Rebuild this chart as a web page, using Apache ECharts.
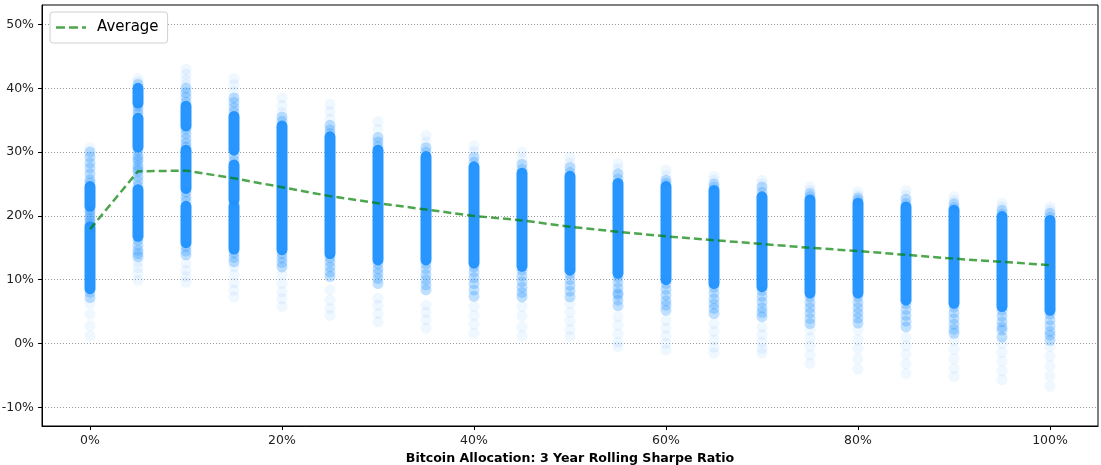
<!DOCTYPE html>
<html>
<head>
<meta charset="utf-8">
<script src="https://cdn.jsdelivr.net/npm/echarts@6/dist/echarts.min.js"></script>
<style>
html,body{margin:0;padding:0;background:#fff;}
#chart{width:1101px;height:465px;}
</style>
</head>
<body>
<div id="chart"></div>
<script>
// Bitcoin allocation (%)
const allocations = [0,5,10,15,20,25,30,35,40,45,50,55,60,65,70,75,80,85,90,95,100];
// Average 3-year rolling Sharpe ratio (%)
const averageSharpe = [17.9,27.0,27.1,25.9,24.5,23.1,22.0,21.0,20.0,19.3,18.3,17.5,16.8,16.2,15.6,15.0,14.5,13.9,13.3,12.8,12.3];
// Dense clusters of observations: [low, high] per allocation
const denseRanges = [
  [[21.5,24.6],[8.6,18.3]],
  [[37.7,40.0],[30.8,35.3],[16.8,24.1]],
  [[34.1,37.2],[24.3,30.3],[15.8,21.5]],
  [[30.3,35.6],[22.5,28.0],[14.8,21.5]],
  [[14.7,34.1]],
  [[14.1,32.4]],
  [[13.1,30.3]],
  [[13.1,29.3]],
  [[12.6,27.7]],
  [[12.1,26.7]],
  [[11.5,26.2]],
  [[11.0,25.1]],
  [[10.0,24.6]],
  [[9.4,24.0]],
  [[8.9,23.0]],
  [[7.9,22.5]],
  [[7.9,22.0]],
  [[6.8,21.4]],
  [[6.3,20.9]],
  [[5.8,19.9]],
  [[5.2,19.3]]
];
// Less frequent observations
const midValues = [
  [30.0,29.2,28.3,27.5,26.6,25.7,25.2,21.0,20.6,20.1,19.6,19.2,18.8,8.0,7.2],
  [40.6,37.2,36.6,36.0,30.2,29.5,29.0,28.6,27.9,27.4,27.0,26.2,25.5,24.7,16.2,15.4,14.6,14.1,13.6],
  [40.0,39.3,38.6,37.8,33.6,32.9,32.1,31.4,30.8,23.7,23.0,22.3,15.2,14.5,13.9],
  [38.5,37.8,37.0,36.3,29.5,28.7,22.0,14.2,13.5,12.8],
  [35.5,34.8,14.1,13.4,12.7,12.0],
  [34.2,33.5,32.9,13.5,12.8,12.0,11.2,10.5],
  [32.3,31.6,30.9,12.5,11.7,11.0,10.2,9.4],
  [30.7,30.0,12.5,11.7,10.8,10.0,9.2,8.4],
  [29.2,28.4,12.0,11.2,10.3,9.4,8.4,7.4],
  [28.1,27.3,11.5,10.6,9.7,8.8,8.0,7.3],
  [27.6,26.8,10.9,10.0,9.1,8.2,7.3],
  [26.6,25.8,10.4,9.6,8.7,7.9,7.6,6.8,5.9],
  [25.6,25.1,9.4,8.5,7.6,6.7,6.0,5.2],
  [25.0,24.5,8.8,7.9,7.0,6.2,5.5,4.7],
  [24.5,23.7,8.3,7.4,6.5,5.6,4.9,4.2],
  [23.5,23.0,7.3,6.4,5.6,4.8,3.9,3.1],
  [22.8,22.4,7.3,6.4,5.6,4.8,4.0,3.2],
  [22.6,21.9,6.2,5.3,4.4,3.5,2.6],
  [21.9,21.3,5.7,4.8,3.9,3.0,2.2,1.6],
  [20.9,20.3,5.2,4.3,3.4,2.6,2.1,1.0],
  [20.4,19.8,4.6,3.7,2.8,1.9,1.3,0.5]
];
// Rare observations
const faintValues = [
  [30.7,6.3,4.6,2.8,1.2],
  [41.5,41.0,12.8,11.9,11.0,9.9],
  [43.0,42.2,41.4,40.6,12.6,11.5,10.5,9.6],
  [41.5,40.6,39.5,12.0,10.8,9.5,8.4,7.3],
  [38.5,37.3,36.2,10.8,9.4,8.1,7.0,5.8],
  [37.5,36.4,35.2,8.4,6.8,5.5,4.4],
  [34.8,33.6,7.1,6.0,4.7,3.4],
  [32.6,31.6,6.0,4.9,3.7,2.4],
  [31.0,30.1,5.8,4.4,3.0,1.6],
  [30.0,29.0,5.8,4.3,2.6,1.2],
  [29.2,28.3,6.3,4.9,3.5,2.2,1.1],
  [28.2,27.4,4.2,2.9,1.5,0.2,-0.5],
  [27.2,26.3,3.6,2.4,1.2,0.0,-1.0],
  [26.2,25.6,3.1,1.9,0.6,-0.6,-1.5],
  [25.6,25.0,2.6,1.4,0.2,-0.8,-1.5],
  [24.6,24.0,2.1,0.9,-0.4,-1.8,-3.1],
  [23.8,23.2,2.1,0.6,-0.8,-2.4,-4.0],
  [24.0,23.2,1.0,-0.3,-1.7,-3.2,-4.7],
  [23.0,22.4,0.5,-0.9,-2.4,-3.9,-5.2],
  [22.0,21.4,0.0,-1.4,-2.8,-4.3,-5.7],
  [21.4,20.9,-0.5,-2.0,-3.5,-5.1,-6.7]
];
const xTicks = [0,20,40,60,80,100];
const yTicks = [-10,0,10,20,30,40,50];

const BLUE = '30,144,255';
const MARK = 11;

const denseData = [];
allocations.forEach((a,i)=>denseRanges[i].forEach(r=>denseData.push([a,r[0],r[1]])));
const midData = [];
allocations.forEach((a,i)=>midValues[i].forEach(v=>midData.push([a,v])));
const faintData = [];
allocations.forEach((a,i)=>faintValues[i].forEach(v=>faintData.push([a,v])));
const avgData = allocations.map((a,i)=>[a,averageSharpe[i]]);

const FONT = 'DejaVu Sans';
const GREEN = 'rgba(0,128,0,0.7)';
const chart = echarts.init(document.getElementById('chart'), null, {renderer:'canvas'});
chart.setOption({
  animation:false,
  backgroundColor:'#fff',
  textStyle:{fontFamily:FONT},
  grid:{left:42,top:5,width:1056,height:421,outerBoundsMode:'none',containLabel:false,
        show:true,borderColor:'#000',borderWidth:1,backgroundColor:'transparent'},
  legend:{
    left:50,top:12,orient:'vertical',
    data:[{name:'Average',icon:'path://M0,0h9v2.6h-9z M13,0h9v2.6h-9z M26,0h4v2.6h-4z',itemStyle:{color:GREEN}}],
    backgroundColor:'#fff',borderColor:'#d0d0d0',borderWidth:1,borderRadius:3,
    padding:[8,9,8,6],
    itemWidth:30,itemHeight:2.6,
    textStyle:{fontFamily:FONT,fontSize:15,color:'#000',padding:[0,0,0,6],lineHeight:14}
  },
  xAxis:{
    type:'value',min:-5,max:105,
    name:'Bitcoin Allocation: 3 Year Rolling Sharpe Ratio',
    nameLocation:'middle',nameGap:24,
    nameTextStyle:{fontFamily:FONT,fontWeight:'bold',fontSize:12.6,color:'#000'},
    axisLine:{show:true,onZero:false,lineStyle:{color:'#000',width:1}},
    axisTick:{show:true,length:4,customValues:xTicks,lineStyle:{color:'#000'}},
    axisLabel:{customValues:xTicks,formatter:'{value}%',fontFamily:FONT,fontSize:12.5,color:'#222',margin:8},
    splitLine:{show:false}
  },
  yAxis:{
    type:'value',min:-12.93,max:53.06,
    axisLine:{show:true,onZero:false,lineStyle:{color:'#000',width:1}},
    axisTick:{show:true,length:4,customValues:yTicks,lineStyle:{color:'#000'}},
    axisLabel:{customValues:yTicks,formatter:'{value}%',fontFamily:FONT,fontSize:12.5,color:'#222',margin:8},
    splitLine:{show:true,lineStyle:{color:'#999',width:1,type:[1,2]}}
  },
  series:[
    {
      name:'faint',type:'scatter',data:faintData,symbol:'circle',symbolSize:MARK,
      itemStyle:{color:'rgba('+BLUE+',0.09)'},z:2,silent:true
    },
    {
      name:'mid',type:'scatter',data:midData,symbol:'circle',symbolSize:MARK,
      itemStyle:{color:'rgba('+BLUE+',0.35)'},z:3,silent:true
    },
    {
      name:'dense',type:'custom',data:denseData,z:4,silent:true,
      encode:{x:0,y:[1,2]},
      renderItem:function(params,api){
        const x=api.value(0), lo=api.value(1), hi=api.value(2);
        const pTop=api.coord([x,hi]), pBot=api.coord([x,lo]);
        const r=MARK/2;
        return {type:'rect',shape:{x:pTop[0]-r,y:pTop[1]-r,width:MARK,height:pBot[1]-pTop[1]+MARK,r:r},
          style:{fill:'rgba('+BLUE+',0.95)'}};
      }
    },
    {
      name:'Average',type:'line',data:avgData,symbol:'none',z:10,
      lineStyle:{color:GREEN,width:2.5,type:[8,4]},
      itemStyle:{color:GREEN}
    }
  ]
});
</script>
</body>
</html>
